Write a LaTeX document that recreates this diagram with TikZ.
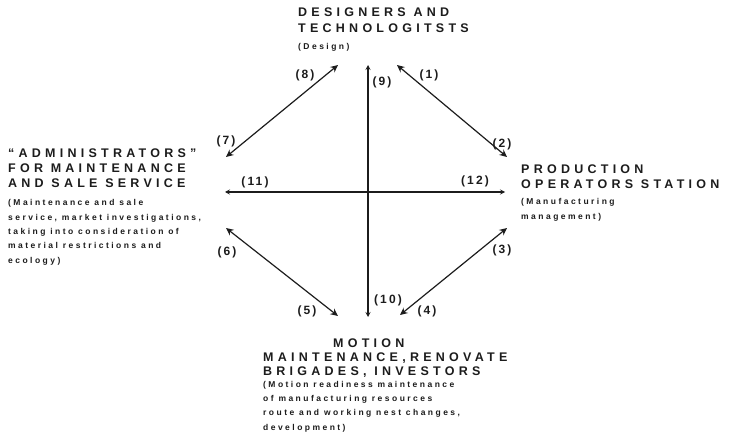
\documentclass[tikz,border=0pt]{standalone}
\usepackage{fontspec}
\setmainfont{Liberation Sans}
\newfontfamily\ttlfont{Liberation Sans}[LetterSpace=34]
\newfontfamily\dscfont{Liberation Sans}[LetterSpace=29]
\newfontfamily\numfont{Liberation Sans}[LetterSpace=18]
\usetikzlibrary{arrows.meta}
\definecolor{ink}{HTML}{1C1C1C}
\tikzset{
  ttl/.style={anchor=base west, inner sep=0pt, align=left, text=ink,
    font=\ttlfont\bfseries\fontsize{12.5}{16}\selectfont},
  dsc/.style={anchor=base west, inner sep=0pt, align=left, text=ink,
    font=\dscfont\bfseries\fontsize{8.5}{14.3}\selectfont},
  num/.style={inner sep=0pt, text=ink, font=\numfont\bfseries\fontsize{12}{14}\selectfont},
  link/.style={draw=ink, line width=1.2pt, {Stealth[length=7.5pt,width=7pt,inset=2.5pt]}-{Stealth[length=7.5pt,width=7pt,inset=2.5pt]}},
  axis/.style={draw=ink, line width=1.2pt, {Stealth[length=5pt,width=5pt,inset=2pt]}-{Stealth[length=5pt,width=5pt,inset=2pt]}}
}
\begin{document}
\begin{tikzpicture}[x=1pt,y=-1pt]
\useasboundingbox (0,0) rectangle (730,446);
% endpoints
\coordinate (trA) at (397,65);  \coordinate (trB) at (507,157);
\coordinate (tlA) at (338,65);  \coordinate (tlB) at (226,157);
\coordinate (blA) at (226,228); \coordinate (blB) at (338,316);
\coordinate (brA) at (507,228); \coordinate (brB) at (400,315);
\coordinate (vT) at (368,65);   \coordinate (vB) at (368,317);
\coordinate (hL) at (225,192);  \coordinate (hR) at (505,192);
% connectors
\draw[link] (trA) -- (trB);
\draw[link] (tlA) -- (tlB);
\draw[link] (blA) -- (blB);
\draw[link] (brA) -- (brB);
\draw[axis] (vT) -- (vB);
\draw[axis] (hL) -- (hR);
% number labels
\node[num] (n1) at (429,75) {(1)};
\node[num] (n2) at (502,144) {(2)};
\node[num] (n3) at (502,250) {(3)};
\node[num] (n4) at (427,311) {(4)};
\node[num] (n5) at (307,311) {(5)};
\node[num] (n6) at (227,252) {(6)};
\node[num] (n7) at (226,141) {(7)};
\node[num] (n8) at (305,75) {(8)};
\node[num] (n9) at (382,82) {(9)};
\node[num] (n10) at (388,300) {(10)};
\node[num] (n11) at (255,182) {(11)};
\node[num] (n12) at (475,181) {(12)};
% top block (anchor = baseline of last line)
\node[ttl] (topT) at (298,33) {DESIGNERS AND\\TECHNOLOGITSTS};
\node[dsc] (topD) at (298,50) {(Design)};
% left block
\node[ttl, font=\ttlfont\bfseries\fontsize{12.5}{15}\selectfont] (leftT) at (8,188) {“ADMINISTRATORS”\\FOR MAINTENANCE\\AND SALE SERVICE};
\node[dsc] (leftD) at (8,263) {(Maintenance and sale\\service, market investigations,\\taking into consideration of\\material restrictions and\\ecology)};
% right block
\node[ttl, font=\ttlfont\bfseries\fontsize{12.5}{14.5}\selectfont] (rightT) at (521,188.5) {PRODUCTION\\OPERATORS STATION};
\node[dsc] (rightD) at (521,219) {(Manufacturing\\management)};
% bottom block
\node[ttl, font=\ttlfont\bfseries\fontsize{12.5}{13.8}\selectfont] (botT) at (263,375.5) {\hspace*{70pt}MOTION\\MAINTENANCE,RENOVATE\\BRIGADES, INVESTORS};
\node[dsc] (botD) at (263,430) {(Motion readiness maintenance\\of manufacturing resources\\route and working nest changes,\\development)};
\end{tikzpicture}
\end{document}
